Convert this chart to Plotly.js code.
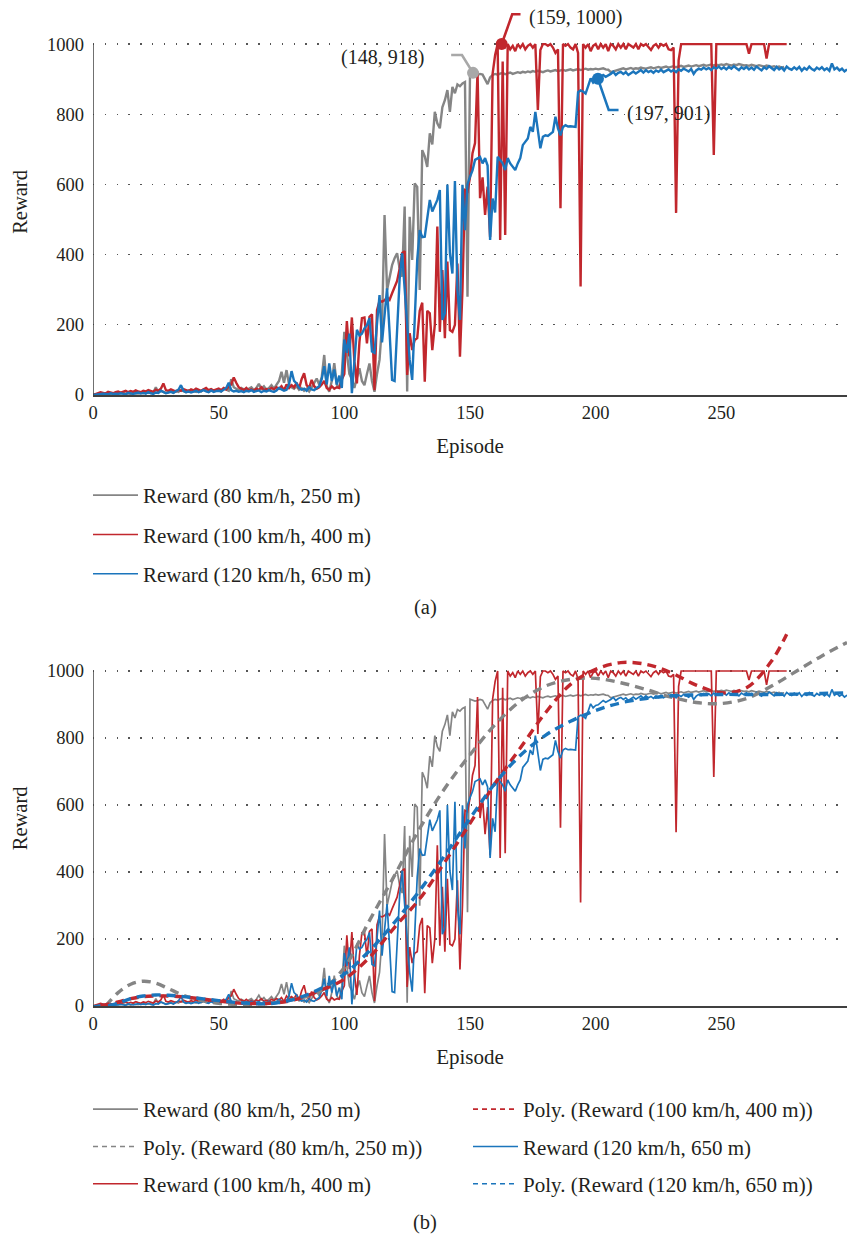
<!DOCTYPE html>
<html>
<head>
<meta charset="utf-8">
<script src="https://cdn.plot.ly/plotly-3.0.1.min.js"></script>
<style>html,body{margin:0;padding:0;background:#fff;}#chart{width:847px;height:1237px;}</style>
</head>
<body>
<div id="chart"></div>
<script>
// ---------- Data ----------
const seriesNames = ['Reward (80 km/h, 250 m)', 'Reward (100 km/h, 400 m)', 'Reward (120 km/h, 650 m)'];
const polyNames = ['Poly. (Reward (80 km/h, 250 m))', 'Poly. (Reward (100 km/h, 400 m))', 'Poly. (Reward (120 km/h, 650 m))'];

const reward80 = [
  0,2,1,3,2,4,2,3,5,3,
  4,3,6,4,5,3,7,5,4,6,
  5,8,6,10,7,22,8,12,9,6,
  8,10,7,12,9,14,11,8,13,10,
  12,9,14,10,16,12,9,15,11,13,
  14,10,18,15,12,45,22,18,14,20,
  16,12,18,22,14,20,32,18,25,15,
  20,28,18,30,40,66,35,71,30,22,
  18,25,15,20,12,18,10,22,35,47,
  30,50,114,25,9,40,91,30,20,60,
  180,120,60,45,20,50,76,40,28,60,
  90,40,9,60,100,200,513,299,330,370,
  390,404,360,337,537,10,508,385,603,593,
  299,698,680,650,746,714,807,774,760,820,
  840,869,807,878,860,885,880,888,892,280,
  916,914,910,912,915,913,900,886,905,912,
  915,913,916,918,914,917,919,915,918,920,
  918,921,919,922,920,923,921,924,922,920,
  923,925,922,924,926,923,925,927,924,926,
  928,925,927,929,926,928,930,927,929,928,
  930,928,929,931,928,927,920,922,925,927,
  929,931,928,930,932,929,931,930,933,931,
  930,932,934,931,933,935,932,934,936,933,
  935,937,934,936,938,935,937,939,936,938,
  940,937,939,941,938,940,942,939,941,940,
  942,940,943,941,939,942,940,943,941,939,
  940,938,941,939,937,940,938,936,939,937,
  935,937,934,936,933,935
];

const reward100 = [
  0,3,5,8,6,4,9,7,5,8,
  10,7,9,12,8,11,9,13,10,8,
  12,10,14,11,9,15,12,18,33,14,
  12,16,13,10,15,12,17,14,11,16,
  13,18,15,12,16,20,14,17,13,15,
  18,14,20,16,25,30,50,35,22,18,
  14,20,13,16,12,18,15,22,14,17,
  14,20,16,22,18,25,13,30,20,28,
  22,35,18,45,62,28,20,43,25,18,
  22,30,40,20,15,25,18,22,20,44,
  60,211,110,221,95,33,150,219,221,147,
  223,230,14,242,268,266,270,278,271,290,
  309,325,360,404,410,57,176,128,157,162,
  240,263,38,240,233,128,200,480,180,356,
  162,380,185,180,200,375,109,300,584,580,
  620,689,718,922,561,620,513,594,450,916,
  969,1000,442,950,456,1000,985,995,980,1000,
  990,1000,985,995,1000,990,1000,812,983,1000,
  1000,995,1000,990,975,985,532,1000,995,1000,
  990,985,1000,975,309,1000,990,1000,980,995,
  1000,985,1000,990,1000,980,1000,995,985,1000,
  990,1000,985,1000,995,990,1000,985,1000,995,
  1000,990,983,995,1000,990,1000,995,1000,985,
  983,990,519,954,1000,1000,1000,1000,1000,1000,
  1000,1000,1000,1000,1000,1000,1000,684,1000,1000,
  1000,1000,1000,1000,1000,1000,1000,1000,1000,1000,
  1000,973,1000,1000,1000,1000,1000,1000,959,1000,
  1000,1000,1000,1000,1000,1000,1000
];

const reward120 = [
  0,1,3,2,4,3,2,5,3,4,
  3,5,4,2,6,4,3,5,7,4,
  6,4,8,5,3,7,6,12,8,5,
  7,9,6,10,15,28,12,8,10,7,
  9,12,8,11,14,10,8,13,9,11,
  12,10,15,20,35,14,10,12,9,11,
  8,12,10,14,9,11,13,8,12,10,
  14,11,9,13,20,16,12,15,30,68,
  40,33,20,15,18,12,22,16,14,20,
  25,45,82,30,90,40,73,30,55,20,
  158,120,175,5,100,186,170,175,190,199,
  219,124,120,200,285,150,220,304,180,43,
  40,200,330,404,298,200,100,43,200,385,
  470,450,451,500,556,523,540,556,584,214,
  233,600,404,346,610,300,214,599,470,600,
  622,640,670,675,678,660,675,654,442,560,
  520,679,670,660,641,675,660,650,641,660,
  675,712,720,731,764,750,807,760,703,736,
  740,738,745,750,793,760,740,764,769,765,
  766,764,764,863,868,865,859,880,902,890,
  897,899,905,912,907,910,915,921,912,918,
  921,915,920,912,918,922,916,920,926,919,
  926,920,924,918,925,921,927,920,925,928,
  922,926,920,928,924,930,926,922,929,915,
  925,930,927,933,928,932,926,934,930,936,
  929,934,928,935,930,937,931,926,934,929,
  935,928,933,927,936,930,925,934,929,937,
  931,926,935,928,933,925,936,930,927,934,
  928,935,924,932,927,936,929,925,933,928,
  934,926,931,924,945,928,933,925,930,922,
  928
];

// polynomial trend lines (values read at selected episodes)
const poly80Ep  = [5,10,15,20,25,30,35,40,50,60,70,80,90,100,110,120,130,140,150,160,170,180,190,200,210,220,230,240,250,260,270,280,290,300];
const poly80Val = [0,40,65,74,68,52,35,22,8,5,8,20,42,115,255,390,530,650,750,840,910,955,975,978,965,945,922,906,903,918,955,1000,1045,1085];
const poly100Ep  = [3,10,15,20,25,30,35,40,50,60,70,80,90,100,110,120,130,140,150,160,170,180,190,200,210,220,230,240,250,260,270,276];
const poly100Val = [0,12,22,28,30,30,28,24,15,8,8,18,45,80,145,235,320,430,545,665,770,875,960,1005,1025,1020,995,958,935,950,1030,1110];
const poly120Ep  = [6,10,15,20,25,30,35,40,50,60,70,80,90,100,110,120,130,140,150,160,170,180,190,200,210,220,230,240,250,260,270,280,290,300];
const poly120Val = [0,8,22,30,33,32,29,25,16,9,7,20,50,95,165,250,345,450,560,665,748,808,850,882,905,918,926,929,930,930,930,931,933,935];

// highlighted points (a) and their callout labels
const peakEp     = [151.2, 162.6, 200.9];
const peakReward = [918, 1000, 901];
const peakLabels = ['(148, 918)', '(159, 1000)', '(197, 901)'];
const calloutEp     = [[142.5, 146.8, 151.2], [162.6, 166.8, 170.1], [200.9, 205.2, 209.1]];
const calloutReward = [[969, 969, 918], [1000, 1085, 1085], [901, 812, 812]];
const labelEp     = [132.4, 172.7, 211.8];
const labelReward = [963, 1077, 803];

const yTicks = [0, 200, 400, 600, 800, 1000];
const xTicks = [0, 50, 100, 150, 200, 250];

// ---------- Styling ----------
const colors = ['#858585', '#C1272D', '#1B75BC'];
const calloutColors = ['#A8A8A8', '#C1272D', '#1B75BC'];
const FONT = "'Liberation Serif', 'Times New Roman', Times, serif";
const idx = arr => arr.map((_, i) => i);
const raws = [reward80, reward100, reward120];
const polys = [[poly80Ep, poly80Val], [poly100Ep, poly100Val], [poly120Ep, poly120Val]];

const traces = [];
// legend-only entry (thin sample line, no data drawn)
function legendEntry(name, legend, rank, color, dash, xa, ya) {
  return {
    type: 'scatter', mode: 'lines', x: [null], y: [null], xaxis: xa, yaxis: ya,
    name: name, legend: legend, legendgroup: legend + rank, legendrank: rank,
    line: {color: color, width: 1.6, dash: dash}, hoverinfo: 'skip'
  };
}
// (a) raw series
raws.forEach((r, i) => {
  traces.push({
    type: 'scatter', mode: 'lines', x: idx(r), y: r, xaxis: 'x', yaxis: 'y',
    name: seriesNames[i], showlegend: false,
    line: {color: colors[i], width: 2.4}
  });
  traces.push(legendEntry(seriesNames[i], 'legend', i + 1, colors[i], 'solid', 'x', 'y'));
});
// (a) callouts
calloutEp.forEach((cx, i) => {
  traces.push({
    type: 'scatter', mode: 'lines', x: cx, y: calloutReward[i], xaxis: 'x', yaxis: 'y',
    showlegend: false, hoverinfo: 'skip', line: {color: calloutColors[i], width: 2.6}
  });
  traces.push({
    type: 'scatter', mode: 'markers', x: [peakEp[i]], y: [peakReward[i]], xaxis: 'x', yaxis: 'y',
    showlegend: false, cliponaxis: false, marker: {color: calloutColors[i], size: 12}
  });
});
// (b) raw series
raws.forEach((r, i) => {
  traces.push({
    type: 'scatter', mode: 'lines', x: idx(r), y: r, xaxis: 'x2', yaxis: 'y2',
    name: seriesNames[i], showlegend: false,
    line: {color: colors[i], width: 1.7}
  });
});
// (b) polynomial trends
polys.forEach((p, i) => {
  traces.push({
    type: 'scatter', mode: 'lines', x: p[0], y: p[1], xaxis: 'x2', yaxis: 'y2',
    name: polyNames[i], showlegend: false,
    line: {color: colors[i], width: 3.4, dash: '9px,6px', shape: 'spline', smoothing: 1}
  });
});
// (b) legend entries: two columns
traces.push(legendEntry(seriesNames[0], 'legend2', 1, colors[0], 'solid', 'x2', 'y2'));
traces.push(legendEntry(polyNames[0], 'legend2', 2, colors[0], '5px,4px', 'x2', 'y2'));
traces.push(legendEntry(seriesNames[1], 'legend2', 3, colors[1], 'solid', 'x2', 'y2'));
traces.push(legendEntry(polyNames[1], 'legend3', 1, colors[1], '5px,4px', 'x2', 'y2'));
traces.push(legendEntry(seriesNames[2], 'legend3', 2, colors[2], 'solid', 'x2', 'y2'));
traces.push(legendEntry(polyNames[2], 'legend3', 3, colors[2], '5px,4px', 'x2', 'y2'));

const axisX = (dom, anchor) => ({
  domain: dom, range: [0, 300], anchor: anchor, showline: true, linecolor: '#404040', linewidth: 1.5,
  ticks: '', tickvals: xTicks, showgrid: false, zeroline: false, tickfont: {size: 18.5},
  title: {text: 'Episode', font: {size: 21}, standoff: 16}
});
const axisY = (dom, anchor, top) => ({
  domain: dom, range: [0, top], anchor: anchor, showline: false, ticks: '', tickvals: yTicks,
  showgrid: true, gridcolor: '#555555', gridwidth: 1.3, griddash: '1.3px,10.5px', zeroline: false,
  tickfont: {size: 18.5}, ticklabelstandoff: 8,
  title: {text: 'Reward', font: {size: 20.5}, standoff: 13}
});

const H = 1237, W = 847;
const py = px => (H - px) / H;
const legendBase = {
  xanchor: 'left', yanchor: 'top', orientation: 'v', bgcolor: 'rgba(0,0,0,0)',
  font: {size: 21, family: FONT, color: '#231F20'}, tracegroupgap: 9, itemwidth: 45
};

const layout = {
  width: W, height: H,
  margin: {l: 0, r: 0, t: 0, b: 0},
  paper_bgcolor: '#fff', plot_bgcolor: '#fff',
  font: {family: FONT, size: 18, color: '#231F20'},
  showlegend: true,
  xaxis: axisX([93 / W, 1], 'y'),
  yaxis: axisY([py(395), py(9)], 'x', 1100),
  xaxis2: axisX([93 / W, 1], 'y2'),
  yaxis2: axisY([py(1006), py(630.8)], 'x2', 1120),
  legend: Object.assign({}, legendBase, {x: 88 / W, y: py(475)}),
  legend2: Object.assign({}, legendBase, {x: 88 / W, y: py(1089), tracegroupgap: 7}),
  legend3: Object.assign({}, legendBase, {x: 468 / W, y: py(1089), tracegroupgap: 7}),
  shapes: [
    {type: 'line', xref: 'x', yref: 'y', x0: 0, x1: 0, y0: 0, y1: yTicks[yTicks.length - 1], line: {color: '#404040', width: 1.5}},
    {type: 'line', xref: 'x2', yref: 'y2', x0: 0, x1: 0, y0: 0, y1: yTicks[yTicks.length - 1], line: {color: '#404040', width: 1.5}}
  ],
  annotations: [
    {xref: 'x', yref: 'y', x: labelEp[0], y: labelReward[0], text: peakLabels[0], showarrow: false, xanchor: 'right', yanchor: 'middle', font: {size: 20}},
    {xref: 'x', yref: 'y', x: labelEp[1], y: labelReward[1], text: peakLabels[1], showarrow: false, xanchor: 'left', yanchor: 'middle', font: {size: 20}},
    {xref: 'x', yref: 'y', x: labelEp[2], y: labelReward[2], text: peakLabels[2], showarrow: false, xanchor: 'left', yanchor: 'middle', font: {size: 20}},
    {xref: 'paper', yref: 'paper', x: 425 / W, y: py(607), text: '(a)', showarrow: false, xanchor: 'center', yanchor: 'middle', font: {size: 20.5}},
    {xref: 'paper', yref: 'paper', x: 425 / W, y: py(1222), text: '(b)', showarrow: false, xanchor: 'center', yanchor: 'middle', font: {size: 20.5}}
  ]
};

Plotly.newPlot('chart', traces, layout, {displayModeBar: false, staticPlot: true});
</script>
</body>
</html>
